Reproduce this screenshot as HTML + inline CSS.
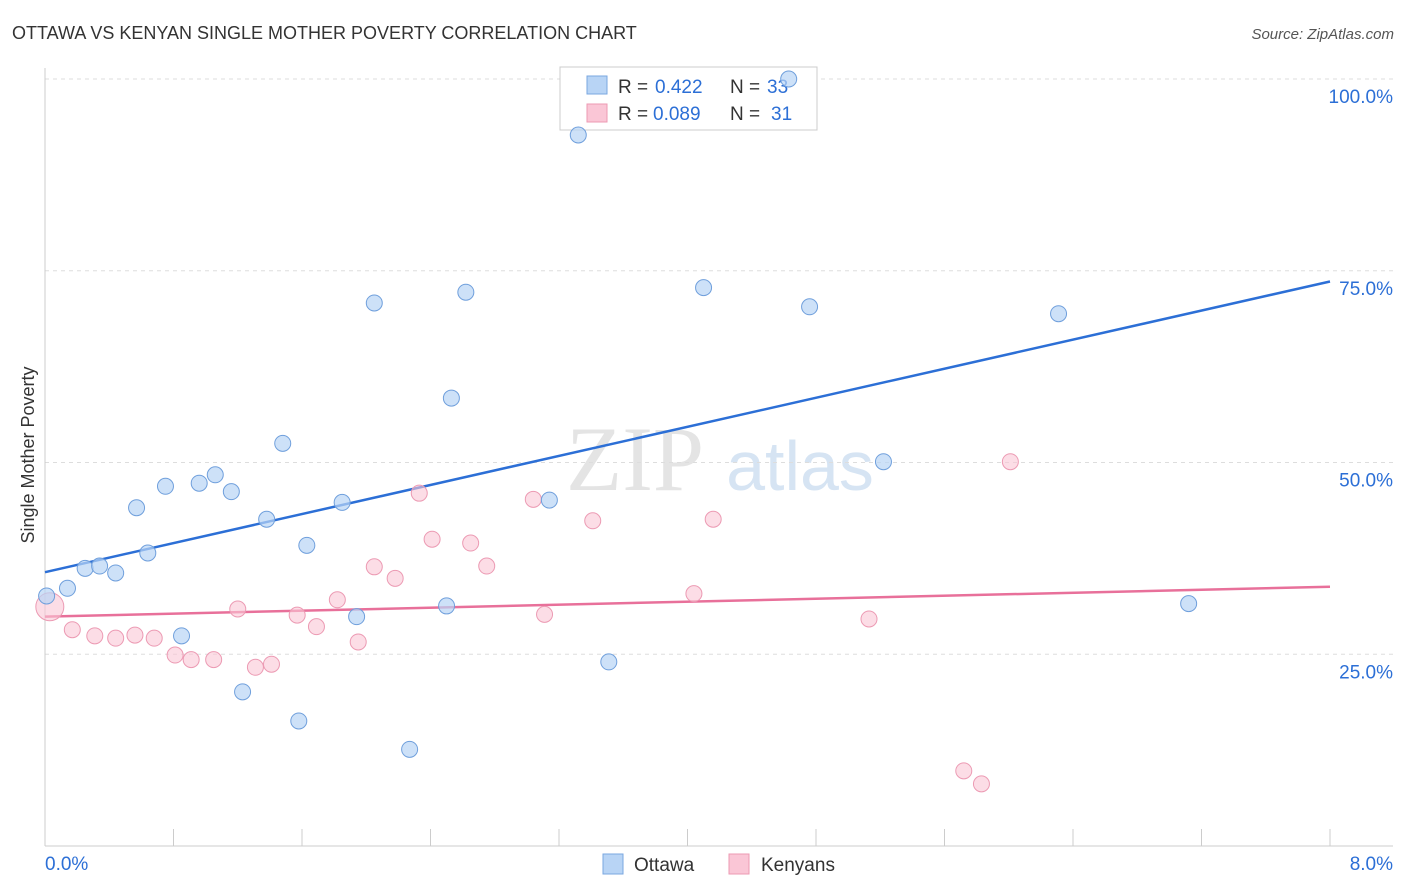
<!DOCTYPE html>
<html><head><meta charset="utf-8"><style>
body{margin:0;background:#fff;font-family:"Liberation Sans",sans-serif;}
svg{display:block}
</style></head><body>
<svg id="chart" width="1406" height="892" xmlns="http://www.w3.org/2000/svg">
<text x="12" y="39" font-size="18" fill="#333">OTTAWA VS KENYAN SINGLE MOTHER POVERTY CORRELATION CHART</text>
<text x="1394" y="39" font-size="15" fill="#555" font-style="italic" text-anchor="end">Source: ZipAtlas.com</text>
<text x="635" y="490" font-size="92" fill="#e4e4e4" font-family="Liberation Serif" text-anchor="middle">ZIP</text>
<text x="800" y="490" font-size="70" fill="#d6e4f3" text-anchor="middle">atlas</text>
<g id="grid"></g><g id="axes"></g><g id="trend"></g>
<text transform="translate(34,455) rotate(-90)" font-size="18" fill="#333" text-anchor="middle">Single Mother Poverty</text>
<g>
<rect x="560" y="67" width="257" height="63" fill="#fff" stroke="#ccc"/>
<rect x="587" y="76" width="20" height="18" fill="#b8d4f5" stroke="#7aa7e0"/>
<rect x="587" y="104" width="20" height="18" fill="#fac6d6" stroke="#ec9ab3"/>
<text x="618" y="93" font-size="19" fill="#333">R = <tspan x="655" fill="#2c6fd6">0.422</tspan></text>
<text x="730" y="93" font-size="19" fill="#333">N = <tspan x="767" fill="#2c6fd6">33</tspan></text>
<text x="618" y="120" font-size="19" fill="#333">R = <tspan x="653" fill="#2c6fd6">0.089</tspan></text>
<text x="730" y="120" font-size="19" fill="#333">N = <tspan x="771" fill="#2c6fd6">31</tspan></text>
</g>
<g id="pts"></g>
<g>
<rect x="603" y="854" width="20" height="20" fill="#b8d4f5" stroke="#7aa7e0"/>
<text x="634" y="871" font-size="19" fill="#333">Ottawa</text>
<rect x="729" y="854" width="20" height="20" fill="#fac6d6" stroke="#ec9ab3"/>
<text x="761" y="871" font-size="19" fill="#333">Kenyans</text>
</g>
</svg>
<script>
const ottawaX=[0.01,0.14,0.25,0.34,0.44,0.57,0.64,0.75,0.85,0.96,1.06,1.16,1.23,1.38,1.48,1.58,1.63,1.85,1.94,2.05,2.27,2.50,2.53,2.62,3.14,3.32,3.51,4.10,4.63,4.76,5.22,6.31,7.12];
const ottawaY=[32.6,33.6,36.2,36.5,35.6,44.1,38.2,46.9,27.4,47.3,48.4,46.2,20.1,42.6,52.5,16.3,39.2,44.8,29.9,70.8,12.6,31.3,58.4,72.2,45.1,92.7,24.0,72.8,100,70.3,50.1,69.4,31.6];
const kenyX=[0.03,0.17,0.31,0.44,0.56,0.68,0.81,0.91,1.05,1.20,1.31,1.41,1.57,1.69,1.82,1.95,2.05,2.18,2.33,2.41,2.65,2.75,3.04,3.11,3.41,4.04,4.16,5.13,5.72,5.83,6.01];
const kenyY=[31.2,28.2,27.4,27.1,27.5,27.1,24.9,24.3,24.3,30.9,23.3,23.7,30.1,28.6,32.1,26.6,36.4,34.9,46.0,40.0,39.5,36.5,45.2,30.2,42.4,32.9,42.6,29.6,9.8,8.1,50.1];
const ottawaTrend=[35.7,73.6];
const kenyTrend=[29.9,33.8];
const yTicks=[25,50,75,100];
const yTickLabels=["25.0%","50.0%","75.0%","100.0%"];
const xTicks=[0,0.8,1.6,2.4,3.2,4.0,4.8,5.6,6.4,7.2,8.0];
const NS="http://www.w3.org/2000/svg";
const sx=v=>45+v/8*1285, sy=v=>846-v*7.67;
function mk(p,t,a){const e=document.createElementNS(NS,t);for(const k in a)e.setAttribute(k,a[k]);document.getElementById(p).appendChild(e);return e;}
yTicks.forEach((t,i)=>{
 const l=mk('grid','line',{x1:45,x2:1393,y1:sy(t),y2:sy(t),stroke:'#ddd','stroke-dasharray':'4,4'});
 
 
 const tx=mk('grid','text',{x:1393,y:sy(t)+24,'font-size':19,fill:'#2c6fd6','text-anchor':'end'});
 tx.textContent=yTickLabels[i];
 
 
});
const ya=mk('axes','line',{x1:45,x2:45,y1:68,y2:846,stroke:'#ccc'});


const xa=mk('axes','line',{x1:45,x2:1393,y1:846,y2:846,stroke:'#ccc'});


xTicks.forEach(t=>{
 const l=mk('axes','line',{x1:sx(t),x2:sx(t),y1:829,y2:846,stroke:'#ccc'});
 
 
});
const xl0=mk('axes','text',{x:45,y:870,'font-size':19,fill:'#2c6fd6'});xl0.textContent='0.0%';


const xl1=mk('axes','text',{x:1393,y:870,'font-size':19,fill:'#2c6fd6','text-anchor':'end'});xl1.textContent='8.0%';


kenyX.forEach((x,i)=>{
 const c=mk('pts','circle',{cx:sx(x),cy:sy(kenyY[i]),r:i==0?14:8,fill:'#fac6d6','fill-opacity':0.6,stroke:'#ec9ab3'});
 
 
});
ottawaX.forEach((x,i)=>{
 const c=mk('pts','circle',{cx:sx(x),cy:sy(ottawaY[i]),r:8,fill:'#b8d4f5','fill-opacity':0.7,stroke:'#6f9fdc'});
 
 
});
const t1=mk('trend','line',{x1:sx(0),x2:sx(8),y1:sy(ottawaTrend[0]),y2:sy(ottawaTrend[1]),stroke:'#2c6fd6','stroke-width':2.5});


const t2=mk('trend','line',{x1:sx(0),x2:sx(8),y1:sy(kenyTrend[0]),y2:sy(kenyTrend[1]),stroke:'#e8709a','stroke-width':2.5});


</script>
</body></html>
